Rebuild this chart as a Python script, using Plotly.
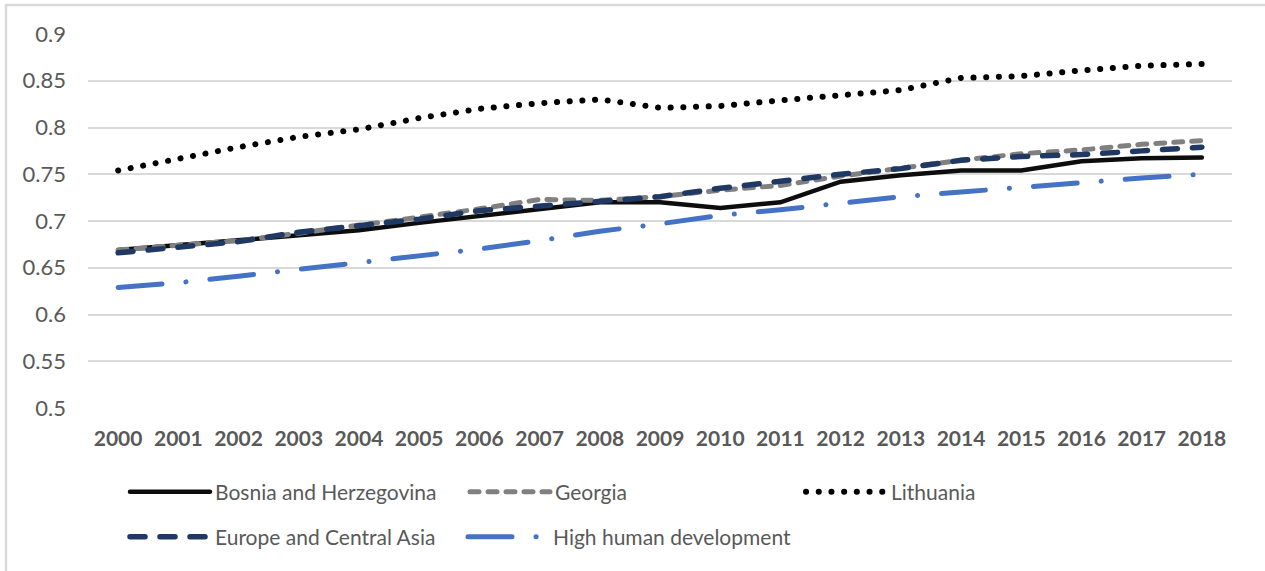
import plotly.graph_objects as go

# Human Development Index, 2000-2018
years = [str(y) for y in range(2000, 2019)]

bosnia = [0.669, 0.674, 0.679, 0.684, 0.690, 0.698, 0.705, 0.712, 0.720, 0.720,
          0.714, 0.720, 0.742, 0.749, 0.754, 0.754, 0.764, 0.767, 0.768]
georgia = [0.669, 0.674, 0.679, 0.687, 0.695, 0.704, 0.713, 0.723, 0.722, 0.726,
           0.733, 0.738, 0.748, 0.757, 0.765, 0.772, 0.776, 0.782, 0.786]
lithuania = [0.754, 0.767, 0.779, 0.790, 0.798, 0.810, 0.820, 0.826, 0.830, 0.821,
             0.823, 0.829, 0.835, 0.840, 0.853, 0.855, 0.861, 0.866, 0.868]
europe_ca = [0.666, 0.672, 0.678, 0.688, 0.695, 0.702, 0.711, 0.716, 0.722, 0.726,
             0.735, 0.743, 0.750, 0.756, 0.765, 0.769, 0.771, 0.775, 0.779]
high_hd = [0.629, 0.634, 0.641, 0.648, 0.655, 0.663, 0.670, 0.679, 0.689, 0.697,
           0.706, 0.712, 0.719, 0.726, 0.731, 0.736, 0.742, 0.746, 0.750]

y_ticks = [0.5, 0.55, 0.6, 0.65, 0.7, 0.75, 0.8, 0.85, 0.9]
y_labels = ["0.5", "0.55", "0.6", "0.65", "0.7", "0.75", "0.8", "0.85", "0.9"]

FONT = "Lato, 'Open Sans', sans-serif"
TXT = "#595959"

# plot area geometry (pixels) used for legend / frame placement
W, H = 1265, 571
L, R, T, B = 88, 33, 34, 163
PW, PH = W - L - R, H - T - B
ITEM_W = 80


def px_x(px):
    return (px - L) / PW


def px_y(py):
    return (H - B - py) / PH


series = [
    ("Bosnia and Herzegovina", bosnia, "#0d0d0d", 4.5, "solid", "legend"),
    ("Georgia", georgia, "#808080", 5, "9px,9px", "legend2"),
    ("Lithuania", lithuania, "#000000", 6, "0.1px,12.6px", "legend3"),
    ("Europe and Central Asia", europe_ca, "#1f3864", 5.5, "15px,15px", "legend4"),
    ("High human development", high_hd, "#4472c4", 5, "44px,24px,0.1px,24px", "legend5"),
]

fig = go.Figure()
for name, vals, color, width, dash, leg in series:
    fig.add_trace(go.Scatter(
        x=years, y=vals, name=name, mode="lines",
        line=dict(color=color, width=width, dash=dash),
        legend=leg,
    ))

# legend entries placed individually (two rows); value = where the label text starts
leg_pos = {
    "legend": (215, 492),
    "legend2": (555, 492),
    "legend3": (891, 492),
    "legend4": (215, 537),
    "legend5": (553, 537),
}
legend_layout = {}
for key, (tx, ty) in leg_pos.items():
    legend_layout[key] = dict(
        x=px_x(tx - ITEM_W - 10), y=px_y(ty), xref="paper", yref="paper",
        xanchor="left", yanchor="middle",
        font=dict(family=FONT, size=21, color=TXT),
        bgcolor="rgba(0,0,0,0)", itemwidth=ITEM_W,
    )

fig.update_layout(
    width=W, height=H,
    margin=dict(l=L, r=R, t=T, b=B),
    paper_bgcolor="white", plot_bgcolor="white",
    showlegend=True,
    **legend_layout,
    xaxis=dict(
        type="category", range=[-0.5, len(years) - 0.5],
        showgrid=False, zeroline=False, showline=False,
        ticks="", ticklabelstandoff=16,
        tickfont=dict(family=FONT, size=21, color=TXT, weight="bold"),
    ),
    yaxis=dict(
        range=[0.5, 0.9], tickvals=y_ticks, ticktext=y_labels,
        showgrid=True, gridcolor="#d9d9d9", gridwidth=1.5,
        zeroline=False, showline=False, ticks="", ticklabelstandoff=21,
        tickfont=dict(family=FONT, size=22, color=TXT),
    ),
    shapes=[dict(
        type="rect", xref="paper", yref="paper",
        x0=px_x(6), x1=px_x(1275), y0=px_y(580), y1=px_y(5),
        line=dict(color="#d9d9d9", width=2.5), layer="below",
    )],
)

# rounded line ends so dotted and dashed strokes render as in the original style
post = """
function roundCaps(){
  document.querySelectorAll('.scatterlayer .js-line, .legendlines path').forEach(function(p){
    p.style.strokeLinecap = 'round';
  });
}
roundCaps();
var gd = document.getElementsByClassName('plotly-graph-div')[0];
if (gd && gd.on) { gd.on('plotly_afterplot', roundCaps); }
"""

fig.write_html("out.html", post_script=post)
